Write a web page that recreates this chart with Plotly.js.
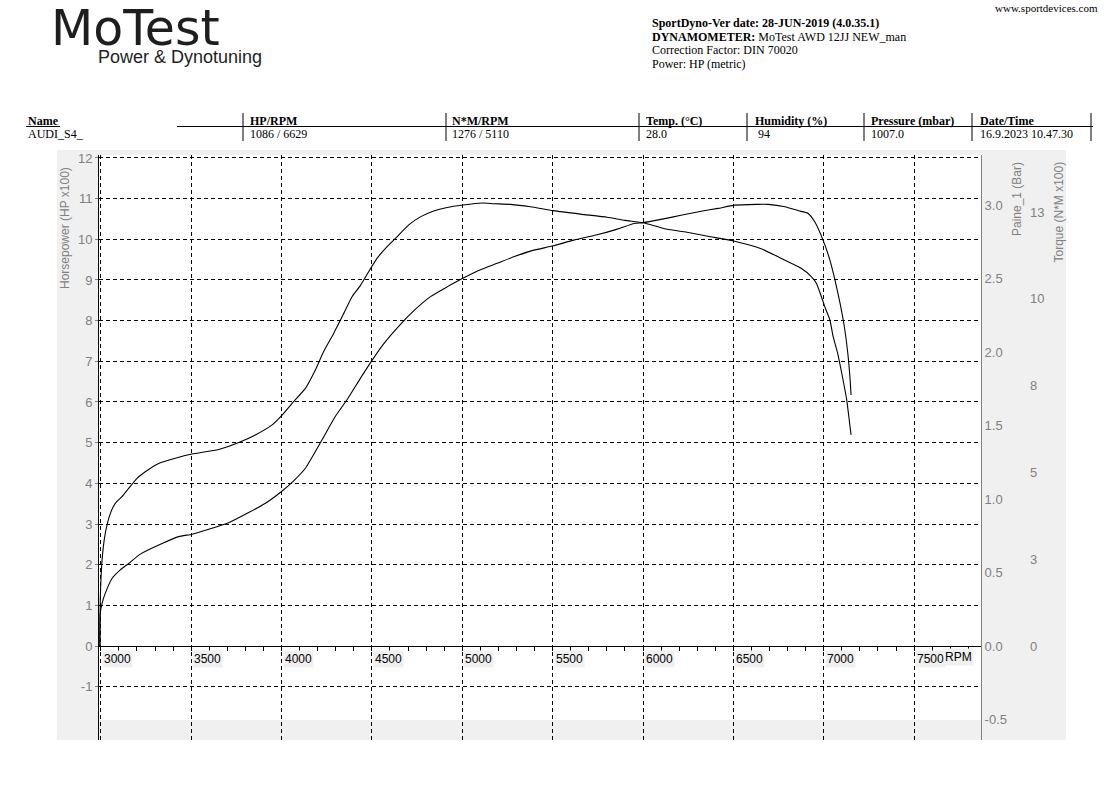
<!DOCTYPE html>
<html>
<head>
<meta charset="utf-8">
<script src="https://cdn.plot.ly/plotly-3.0.1.min.js"></script>
<style>
  html, body { margin: 0; padding: 0; background: #ffffff; }
  #chart { width: 1118px; height: 790px; }
</style>
</head>
<body>
<div id="chart"></div>
<script>
// ---------------- DATA ----------------
const torqueRpm = [2995,2997,3007,3025,3053,3080,3117,3154,3200,3246,3320,3412,3505,3652,3763,3855,3948,4003,4067,4132,4187,4233,4289,4335,4390,4436,4482,4529,4584,4630,4704,4768,4842,4916,5003,5110,5174,5267,5377,5503,5654,5802,5900,6001,6118,6229,6359,6507,6650,6763,6875,6931,6959,6987,7006,7034,7052,7077,7099,7127,7141,7151];
const torqueNm  = [0,132,248,325,382,411,430,454,483,502,526,541,553,566,586,608,637,665,704,742,795,848,901,948,1006,1038,1078,1117,1150,1174,1213,1236,1253,1263,1270,1276,1274,1272,1265,1254,1244,1235,1226,1219,1202,1193,1180,1166,1145,1117,1088,1064,1045,1006,977,939,891,843,787,709,651,608];

const powerRpm = [2995,2997,3007,3025,3062,3108,3154,3219,3339,3431,3505,3597,3707,3818,3911,4000,4067,4132,4224,4298,4363,4436,4497,4565,4658,4731,4824,4916,5003,5100,5193,5285,5377,5503,5617,5746,5858,5951,6001,6099,6210,6322,6415,6507,6629,6693,6786,6861,6912,6950,6996,7034,7062,7090,7114,7133,7146,7151];
const powerHp  = [0,80,105,130,166,187,203,226,252,269,275,287,303,328,351,380,406,437,507,565,606,658,700,743,791,824,859,883,904,925,941,957,971,984,998,1011,1025,1039,1041,1049,1059,1069,1076,1084,1086,1086,1080,1070,1064,1043,998,949,900,843,785,720,654,617];

// Tick values / labels
const rpmTickVals = [3000,3500,4000,4500,5000,5500,6000,6500,7000,7500];
const rpmTickText = ['3000','3500','4000','4500','5000','5500','6000','6500','7000','7500'];
const rpmMinorStep = 100;
const hpTickVals  = [-100,0,100,200,300,400,500,600,700,800,900,1000,1100,1200];
const hpTickText  = ['-1','0','1','2','3','4','5','6','7','8','9','10','11','12'];
const barTickVals = [-0.5,0,0.5,1.0,1.5,2.0,2.5,3.0];
const barTickText = ['-0.5','0.0','0.5','1.0','1.5','2.0','2.5','3.0'];
const tqTickVals  = [0,250,500,750,1000,1250];
const tqTickText  = ['0','3','5','8','10','13'];

// Header / table texts
const headerInfo = [
  '<b>SportDyno-Ver date: 28-JUN-2019 (4.0.35.1)</b>',
  '<b>DYNAMOMETER:</b> MoTest AWD 12JJ NEW_man',
  'Correction Factor: DIN 70020',
  'Power: HP (metric)'
];
const tableHeaders = ['Name','HP/RPM','N*M/RPM','Temp. (°C)','Humidity (%)','Pressure (mbar)','Date/Time'];
const tableValues  = ['AUDI_S4_','1086 / 6629','1276 / 5110','28.0',' 94','1007.0','16.9.2023 10.47.30'];

// ---------------- LAYOUT HELPERS (pixel -> paper) ----------------
const W = 1118, H = 790;
const ML = 99, MR = 40, MT = 155, MB = 50;
const PW = W - ML - MR, PH = H - MT - MB;       // paper area
const plotRight = 981;
const px2x = p => (p - ML) / PW;
const py2y = p => (H - MB - p) / PH;

const serif = 'Liberation Serif, Times New Roman, serif';
const sans  = 'Liberation Sans, Arial, sans-serif';
const annotations = [];
function txt(text, x, y, opts) {
  annotations.push(Object.assign({
    text: text, xref: 'paper', yref: 'paper', x: px2x(x), y: py2y(y),
    xanchor: 'left', yanchor: 'middle', showarrow: false,
    font: {family: serif, size: 12, color: '#000000'}
  }, opts || {}));
}
// Logo
txt('MoTest', 49, 28, {font: {family: 'DejaVu Sans, Verdana, sans-serif', size: 49, color: '#1e1e1e'}});
txt('Power &amp; Dynotuning', 96, 57, {font: {family: sans, size: 18, color: '#1e1e1e'}});
// Header info
txt('www.sportdevices.com', 993, 8, {font: {family: serif, size: 11, color: '#000'}});
headerInfo.forEach((t, i) => txt(t, 650, 23 + i * 13.6, {font: {family: serif, size: 12, color: '#000'}}));
// Table
const colX = [26, 248, 450, 644, 753, 869, 978];
tableHeaders.forEach((t, i) => txt('<b>' + t + '</b>', colX[i], 120.5, {font: {family: serif, size: 12, color: '#000'}}));
tableValues.forEach((t, i) => txt(t, colX[i], 134, {font: {family: serif, size: 12, color: '#000'}}));
// Axis titles
txt('Horsepower (HP x100)', 65, 165, {textangle: -90, xanchor: 'center', yanchor: 'top', font: {family: sans, size: 12, color: '#808080'}});
txt('Paine_1 (Bar)', 1017, 160, {textangle: -90, xanchor: 'center', yanchor: 'top', font: {family: sans, size: 12, color: '#808080'}});
txt('Torque (N*M x100)', 1059, 160, {textangle: -90, xanchor: 'center', yanchor: 'top', font: {family: sans, size: 12, color: '#808080'}});
txt('RPM', 958, 657, {xanchor: 'center', font: {family: sans, size: 12, color: '#000'}, bgcolor: '#f0f0f0'});
// RPM tick labels on light-gray boxes, placed at the tick values through the x scale
rpmTickVals.forEach((v, i) => annotations.push({
  text: rpmTickText[i], xref: 'x', yref: 'paper', x: v, y: py2y(650),
  xanchor: 'left', yanchor: 'top', xshift: 1, showarrow: false,
  bgcolor: '#f0f0f0', borderpad: 1,
  font: {family: sans, size: 12, color: '#000'}
}));

const shapes = [];
// gray panel & white plot area
shapes.push({type: 'rect', xref: 'paper', yref: 'paper', x0: px2x(57), x1: px2x(1066), y0: py2y(740), y1: py2y(150), fillcolor: '#f0f0f0', line: {width: 0}, layer: 'below'});
shapes.push({type: 'rect', xref: 'paper', yref: 'paper', x0: px2x(99), x1: px2x(plotRight), y0: py2y(720), y1: py2y(155), fillcolor: '#ffffff', line: {width: 0}, layer: 'below'});
// table rules
function hline(x0, x1, y) { shapes.push({type: 'line', xref: 'paper', yref: 'paper', x0: px2x(x0), x1: px2x(x1), y0: py2y(y), y1: py2y(y), line: {color: '#000', width: 1}}); }
function vline(x, y0, y1) { shapes.push({type: 'line', xref: 'paper', yref: 'paper', x0: px2x(x), x1: px2x(x), y0: py2y(y0), y1: py2y(y1), line: {color: '#000', width: 1}}); }
hline(26, 60, 126.5);
hline(177, 1093, 126.5);
[243, 446, 639, 747, 864, 972, 1091].forEach(x => vline(x, 113, 141));

const gridDash = '4px,3px';
const layout = {
  width: W, height: H,
  margin: {l: ML, r: MR, t: MT, b: MB, pad: 0},
  paper_bgcolor: '#ffffff',
  plot_bgcolor: 'rgba(0,0,0,0)',
  showlegend: false,
  font: {family: sans, size: 12, color: '#808080'},
  xaxis: {
    domain: [0, px2x(plotRight)],
    range: [2990, 7870],
    anchor: 'free', position: py2y(646),
    tickmode: 'array', tickvals: rpmTickVals, ticktext: rpmTickText,
    showticklabels: false,
    showline: true, linecolor: '#000', linewidth: 1,
    ticks: 'outside', ticklen: 4, tickcolor: '#000', tickwidth: 1,
    showgrid: true, gridcolor: '#000', gridwidth: 1, griddash: gridDash,
    zeroline: false,
    minor: {tickmode: 'linear', tick0: rpmTickVals[0], dtick: rpmMinorStep, ticks: 'outside', ticklen: 4, tickcolor: '#000', showgrid: false}
  },
  yaxis: {
    domain: [0, 1],
    range: [-231.1, 1207.3],
    tickmode: 'array', tickvals: hpTickVals, ticktext: hpTickText,
    showline: true, linecolor: '#000', linewidth: 1,
    ticks: 'outside', ticklen: 3, tickcolor: '#808080',
    tickfont: {family: sans, size: 13, color: '#808080'},
    showgrid: true, gridcolor: '#000', gridwidth: 1, griddash: gridDash,
    zeroline: false
  },
  yaxis2: {
    overlaying: 'y', side: 'right', anchor: 'x',
    range: [-0.639, 3.340],
    tickmode: 'array', tickvals: barTickVals, ticktext: barTickText,
    showline: true, linecolor: '#808080', linewidth: 1,
    ticks: '', showgrid: false, zeroline: false,
    tickfont: {family: sans, size: 13, color: '#808080'}
  },
  yaxis3: {
    overlaying: 'y', side: 'right', anchor: 'free', position: px2x(1029),
    range: [-270.7, 1414.2],
    tickmode: 'array', tickvals: tqTickVals, ticktext: tqTickText,
    showline: false, ticks: '', showgrid: false, zeroline: false,
    tickfont: {family: sans, size: 13, color: '#808080'}
  },
  shapes: shapes,
  annotations: annotations
};

const lineStyle = {color: '#000', width: 1.1, shape: 'spline', smoothing: 0.5};
const traces = [
  {type: 'scatter', mode: 'lines', name: 'Torque', x: torqueRpm, y: torqueNm, yaxis: 'y3', line: lineStyle, hoverinfo: 'skip'},
  {type: 'scatter', mode: 'lines', name: 'Power', x: powerRpm, y: powerHp, yaxis: 'y', line: lineStyle, hoverinfo: 'skip'},
  {type: 'scatter', mode: 'lines', name: 'Paine_1', x: [], y: [], yaxis: 'y2', hoverinfo: 'skip'}
];

Plotly.newPlot('chart', traces, layout, {staticPlot: true, displayModeBar: false});
</script>
</body>
</html>
